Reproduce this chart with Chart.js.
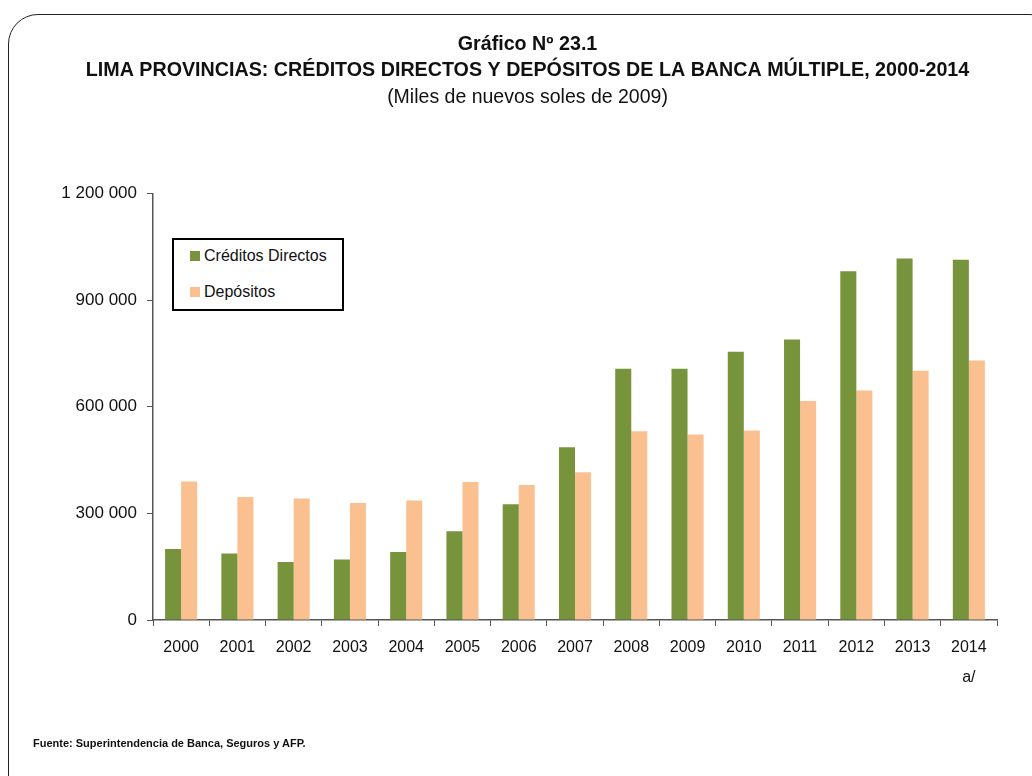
<!DOCTYPE html>
<html>
<head>
    <meta charset="utf-8">
    <title>Lima Provincias - Créditos y Depósitos</title>
    <script src="https://cdn.jsdelivr.net/npm/chart.js"></script>
    <style>
        html, body { margin: 0; padding: 0; background: #fff; overflow: hidden; }
        body { width: 1032px; height: 776px; position: relative;
               font-family: 'Liberation Sans', Arial, sans-serif; }
        .frame { position: absolute; left: 8px; top: 14px; width: 1050px; height: 790px;
                 border: 1.5px solid #222; border-radius: 30px; }
        .chart-box { position: absolute; left: 0; top: 0; width: 1032px; height: 776px; }
        .legend { position: absolute; left: 172px; top: 238px; width: 168px; height: 69px;
                  border: 2px solid #000; background: #fff; font-size: 16px; color: #111; }
        .legend div { position: absolute; left: 16px; white-space: nowrap; line-height: 20px; }
        .legend span { display: inline-block; width: 10px; height: 10px; margin-right: 4px; }
        .source { position: absolute; left: 33px; top: 737px; font-weight: bold; font-size: 11px; color: #111; }
    </style>
</head>
<body>
    <div class="frame"></div>
    <div class="chart-box"><canvas id="bankChart" width="1032" height="776"></canvas></div>
    <div class="legend" id="legend"></div>
    <div class="source">Fuente: Superintendencia de Banca, Seguros y AFP.</div>

    <script>
        // datos (miles de nuevos soles de 2009)
        const years = ['2000', '2001', '2002', '2003', '2004', '2005', '2006', '2007',
                       '2008', '2009', '2010', '2011', '2012', '2013', ['2014', 'a/']];
        const creditos = [200000, 187000, 163000, 170000, 191000, 250000, 326000, 486000,
                          707000, 707000, 755000, 789000, 981000, 1017000, 1014000];
        const depositos = [390000, 346000, 342000, 329000, 336000, 388000, 380000, 416000,
                           531000, 522000, 533000, 616000, 646000, 701000, 730000];
        const yTicks = [0, 300000, 600000, 900000, 1200000];

        const green = '#77933C';
        const peach = '#FAC090';
        const axisColor = '#555';

        Chart.defaults.font.family = "'Liberation Sans', Arial, sans-serif";
        Chart.defaults.color = '#111';

        const ctx = document.getElementById('bankChart').getContext('2d');
        const chart = new Chart(ctx, {
            type: 'bar',
            data: {
                labels: years,
                datasets: [{
                    label: 'Créditos Directos',
                    data: creditos,
                    backgroundColor: green,
                    barPercentage: 1,
                    categoryPercentage: 0.57
                }, {
                    label: 'Depósitos',
                    data: depositos,
                    backgroundColor: peach,
                    barPercentage: 1,
                    categoryPercentage: 0.57
                }]
            },
            options: {
                responsive: false,
                animation: false,
                // left padding only shifts the centred titles; the y axis width makes up the rest
                layout: { padding: { left: 58, right: 35, bottom: 76 } },
                scales: {
                    x: {
                        grid: { drawOnChartArea: false, tickLength: 6, color: axisColor },
                        border: { color: axisColor, width: 1.5 },
                        ticks: { font: { size: 16, lineHeight: 1.9 }, padding: 6, maxRotation: 0 },
                        afterFit: s => { s.height = 80; }
                    },
                    y: {
                        min: 0,
                        max: 1200000,
                        afterBuildTicks: s => { s.ticks = yTicks.map(v => ({ value: v })); },
                        grid: { drawOnChartArea: false, tickLength: 6, color: axisColor },
                        border: { color: axisColor, width: 1.5 },
                        ticks: {
                            font: { size: 17 },
                            padding: 10,
                            callback: v => v.toLocaleString('en-US').replace(/,/g, ' ')
                        },
                        afterFit: s => { s.width = 153 - 58; }
                    }
                },
                plugins: {
                    legend: { display: false },
                    tooltip: { enabled: false },
                    title: {
                        display: true,
                        text: ['Gráfico Nº 23.1',
                               'LIMA PROVINCIAS: CRÉDITOS DIRECTOS Y DEPÓSITOS DE LA BANCA MÚLTIPLE, 2000-2014'],
                        font: { size: 19.7, weight: 'bold', lineHeight: 1.33 },
                        color: '#111',
                        padding: { top: 31, bottom: 0 }
                    },
                    subtitle: {
                        display: true,
                        text: '(Miles de nuevos soles de 2009)',
                        font: { size: 19.5, lineHeight: 1.34 },
                        color: '#111',
                        padding: { top: 1, bottom: 83 }
                    }
                }
            }
        });

        // leyenda HTML a partir de los datasets
        const legendDiv = document.getElementById('legend');
        chart.data.datasets.forEach((ds, i) => {
            const row = document.createElement('div');
            row.style.top = (i === 0 ? 6 : 42) + 'px';
            row.innerHTML = `<span style="background:${ds.backgroundColor}"></span>${ds.label}`;
            legendDiv.appendChild(row);
        });
    </script>
</body>
</html>
